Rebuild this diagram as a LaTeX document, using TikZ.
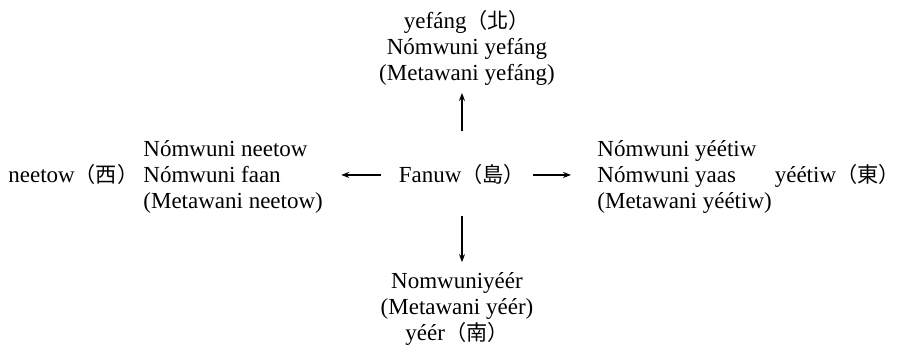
\documentclass[tikz,border=0pt]{standalone}
\usepackage{fontspec}
\setmainfont{Liberation Serif}
\newfontfamily\cjk[Scale=0.92]{Noto Sans CJK TC}
\usetikzlibrary{
  arrows.meta,
  calc
}
\newcommand\glossfont{\fontsize{11.5pt}{13pt}\selectfont}
\tikzset{
  gloss/.style={
    inner sep=0pt,
    font=\glossfont
  },
  side block/.style={gloss, align=left},
  stack block/.style={gloss, align=center},
  dir arrow/.style={-{Stealth[length=4pt, width=3pt]}, line width=0.55pt},
}

\begin{document}
\begin{tikzpicture}[x=0.5pt, y=-0.5pt]
    \useasboundingbox (0,0) rectangle (900,352);
    % Nodes
    \node[gloss, anchor=base] (island) at (462,183) {Fanuw{\cjk（島）}};
    \node[stack block] (north) at (467,48)
      {yefáng{\cjk（北）}\\Nómwuni yefáng\\(Metawani yefáng)};
    \node[stack block] (south) at (457,309)
      {Nomwuniyéér\\(Metawani yéér)\\yéér{\cjk（南）}};
    \node[side block, anchor=west] (west) at (143,177)
      {Nómwuni neetow\\Nómwuni faan\\(Metawani neetow)};
    \node[side block, anchor=west] (east) at (597,177)
      {Nómwuni yéétiw\\Nómwuni yaas\\(Metawani yéétiw)};
    \node[gloss, anchor=base west] (westdir) at (8,183) {neetow{\cjk（西）}};
    \node[gloss, anchor=base east] (eastdir) at (900,183) {yéétiw{\cjk（東）}};

    % Arrows
    \draw[dir arrow, shorten <=16.5pt, shorten >=3.5pt]
      (island.north) -- (island.north |- north.south);
    \draw[dir arrow, shorten <=15.5pt, shorten >=5pt]
      (island.south) -- (island.south |- south.north);
    \draw[dir arrow, shorten <=9pt, shorten >=9pt]
      (island.west) -- (island.west -| west.east);
    \draw[dir arrow, shorten <=4pt, shorten >=13pt]
      (island.east) -- (island.east -| east.west);
\end{tikzpicture}
\end{document}
